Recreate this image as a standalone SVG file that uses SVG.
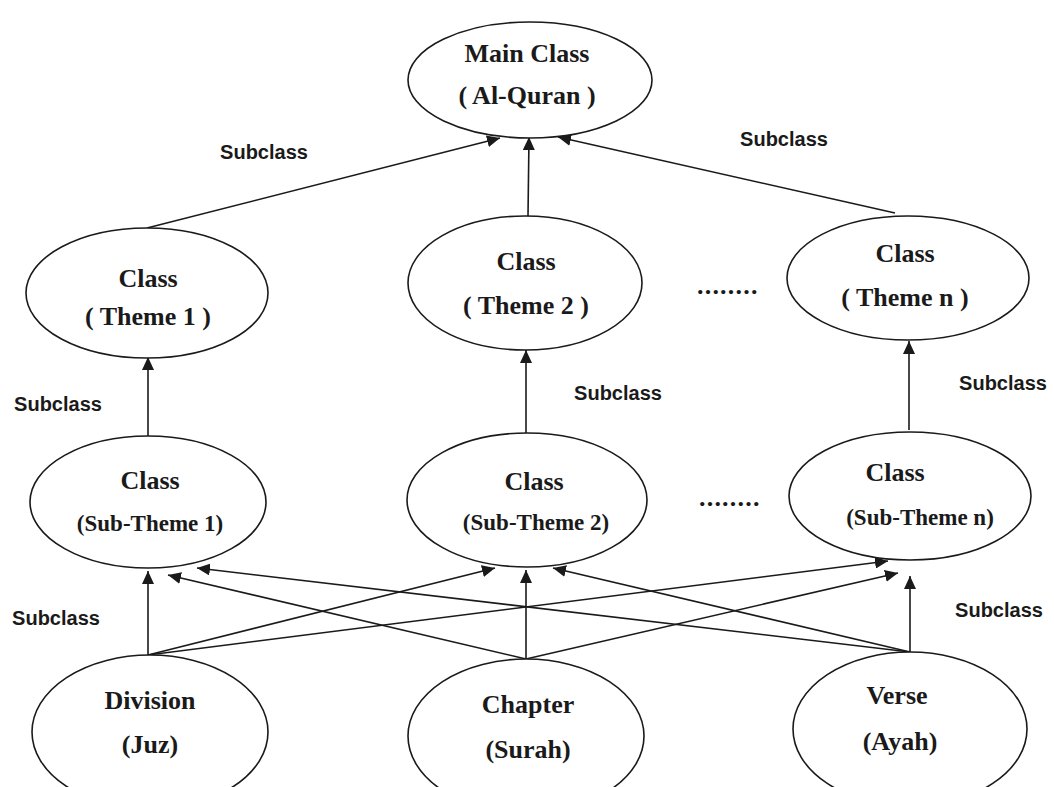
<svg xmlns="http://www.w3.org/2000/svg" width="1054" height="787" viewBox="0 0 1054 787">
  <style>
    .node ellipse { fill: #fff; stroke: #1a1a1a; stroke-width: 1.6; }
    .nt { font-family: "Liberation Serif", "Times New Roman", serif; font-weight: bold; fill: #1a1a1a; text-anchor: middle; }
    .big { font-size: 26px; }
    .sub { font-size: 23px; }
    .lbl { font-family: "Liberation Sans", Arial, sans-serif; font-weight: bold; font-size: 20px; fill: #1a1a1a; text-anchor: middle; }
    .dots { font-family: "Liberation Serif", serif; font-weight: bold; font-size: 26px; fill: #1a1a1a; letter-spacing: 1.2px; }
    .edge { stroke: #1a1a1a; stroke-width: 1.6; fill: none; marker-end: url(#arrow); }
  </style>
  <defs>
    <marker id="arrow" markerUnits="userSpaceOnUse" markerWidth="14" markerHeight="12" refX="13" refY="6" orient="auto">
      <path d="M0,0 L13,6 L0,12 Z" fill="#1a1a1a"/>
    </marker>
  </defs>
  <rect width="1054" height="787" fill="#fff"/>

  <!-- connectors -->
  <g id="connectors">
    <line class="edge" x1="147" y1="228" x2="500" y2="138"/>
    <line class="edge" x1="528" y1="216" x2="529" y2="137"/>
    <line class="edge" x1="895" y1="213" x2="558" y2="137"/>

    <line class="edge" x1="148" y1="436" x2="148" y2="357"/>
    <line class="edge" x1="526" y1="433" x2="526" y2="350"/>
    <line class="edge" x1="909" y1="430" x2="909" y2="341"/>

    <line class="edge" x1="148" y1="655" x2="148" y2="571"/>
    <line class="edge" x1="148" y1="655" x2="495" y2="568"/>
    <line class="edge" x1="148" y1="655" x2="888" y2="561"/>

    <line class="edge" x1="526" y1="659" x2="168" y2="575"/>
    <line class="edge" x1="526" y1="659" x2="526" y2="570"/>
    <line class="edge" x1="526" y1="659" x2="898" y2="573"/>

    <line class="edge" x1="910" y1="652" x2="197" y2="568"/>
    <line class="edge" x1="910" y1="652" x2="553" y2="568"/>
    <line class="edge" x1="910" y1="652" x2="910" y2="576"/>
  </g>

  <!-- edge labels -->
  <g id="labels">
    <text class="lbl" x="264" y="159">Subclass</text>
    <text class="lbl" x="784" y="146">Subclass</text>
    <text class="lbl" x="58" y="411">Subclass</text>
    <text class="lbl" x="618" y="400">Subclass</text>
    <text class="lbl" x="1003" y="390">Subclass</text>
    <text class="lbl" x="56" y="625">Subclass</text>
    <text class="lbl" x="999" y="617">Subclass</text>
    <text class="dots" x="697" y="294">........</text>
    <text class="dots" x="699" y="506">........</text>
  </g>

  <g id="main" class="node">
    <ellipse cx="530" cy="80" rx="122" ry="58"/>
    <text class="nt big" x="527" y="62">Main Class</text>
    <text class="nt big" x="527" y="104">( Al-Quran )</text>
  </g>

  <g id="theme1" class="node">
    <ellipse cx="147" cy="293" rx="121" ry="65"/>
    <text class="nt big" x="148" y="287">Class</text>
    <text class="nt big" x="148" y="325">( Theme 1 )</text>
  </g>
  <g id="theme2" class="node">
    <ellipse cx="525" cy="283" rx="117" ry="67"/>
    <text class="nt big" x="526" y="270">Class</text>
    <text class="nt big" x="526" y="314">( Theme 2 )</text>
  </g>
  <g id="themeN" class="node">
    <ellipse cx="908" cy="278" rx="121" ry="62"/>
    <text class="nt big" x="905" y="262">Class</text>
    <text class="nt big" x="905" y="306">( Theme n )</text>
  </g>

  <g id="subtheme1" class="node">
    <ellipse cx="148" cy="502" rx="118" ry="66"/>
    <text class="nt big" x="150" y="489">Class</text>
    <text class="nt sub" x="150" y="531">(Sub-Theme 1)</text>
  </g>
  <g id="subtheme2" class="node">
    <ellipse cx="527" cy="500" rx="120" ry="67"/>
    <text class="nt big" x="534" y="490">Class</text>
    <text class="nt sub" x="536" y="530">(Sub-Theme 2)</text>
  </g>
  <g id="subthemeN" class="node">
    <ellipse cx="910" cy="496" rx="121" ry="64"/>
    <text class="nt big" x="895" y="481">Class</text>
    <text class="nt sub" x="920" y="525">(Sub-Theme n)</text>
  </g>

  <g id="division" class="node">
    <ellipse cx="150" cy="732" rx="118" ry="77"/>
    <text class="nt big" x="150" y="709">Division</text>
    <text class="nt big" x="150" y="753">(Juz)</text>
  </g>
  <g id="chapter" class="node">
    <ellipse cx="526" cy="736" rx="118" ry="77"/>
    <text class="nt big" x="528" y="713">Chapter</text>
    <text class="nt big" x="528" y="758">(Surah)</text>
  </g>
  <g id="verse" class="node">
    <ellipse cx="910" cy="729" rx="117" ry="77"/>
    <text class="nt big" x="897" y="704">Verse</text>
    <text class="nt big" x="900" y="750">(Ayah)</text>
  </g>
</svg>
